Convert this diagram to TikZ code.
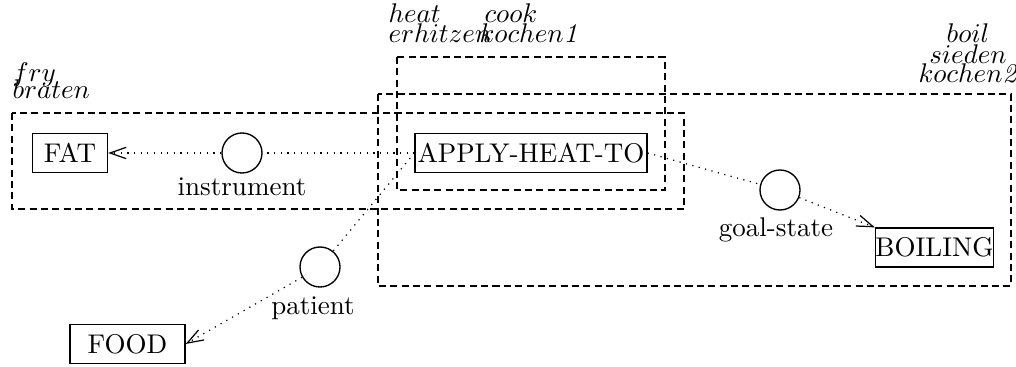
\documentclass[tikz,border=0pt]{standalone}
\usetikzlibrary{arrows.meta}
\begin{document}
\begin{tikzpicture}[x=0.37pt,y=-0.37pt,
  concept/.style={draw,line width=0.5pt,inner sep=0pt,minimum height=14.4pt,font=\fontsize{10}{12}\selectfont},
  role/.style={draw,line width=0.5pt,circle,inner sep=0pt,minimum size=14.8pt},
  rolelabel/.style={inner sep=0pt,font=\fontsize{10}{12}\selectfont},
  frame/.style={draw,line width=0.45pt,dash pattern=on 2.6pt off 1.6pt},
  lex/.style={inner sep=0pt,anchor=base west,font=\fontsize{10}{12}\selectfont},
  rel/.style={line width=0.45pt,dotted},
  relarrow/.style={rel,-{Straight Barb[length=6pt,width=4.2pt,line width=0.45pt]}}]
\useasboundingbox (0,0) rectangle (1016,367);
% frames
\draw[frame] (12,113) rectangle (684,209);
\draw[frame] (397,57) rectangle (665,190);
\draw[frame] (378,94) rectangle (1011,286);
% lexical labels
\node[lex] (fry) at (12,82) {$fry$};
\node[lex] (braten) at (12,99) {$braten$};
\node[lex] (heat) at (388,23) {$heat$};
\node[lex] (erhitzen) at (388,43) {$erhitzen$};
\node[lex] (cook) at (484,23) {$cook$};
\node[lex] (kochen1) at (479,43) {$kochen$\textit{1}};
\node[lex,anchor=base] (boil) at (968,43) {$boil$};
\node[lex,anchor=base] (sieden) at (968,64) {$sieden$};
\node[lex,anchor=base] (kochen2) at (968,83) {$kochen$\textit{2}};
% concepts
\node[concept,minimum width=27.75pt] (fat) at (70,153) {FAT};
\node[concept,minimum width=85.8pt] (apply) at (531,153) {APPLY-HEAT-TO};
\node[concept,minimum width=42.5pt] (boiling) at (934.5,247.5) {BOILING};
\node[concept,minimum width=42.5pt] (food) at (127.5,344) {FOOD};
% roles
\node[role] (instr) at (242,153) {};
\node[role] (goal) at (780,190) {};
\node[role] (patient) at (320,267) {};
\node[rolelabel] (instrlab) at (242,187) {instrument};
\node[rolelabel] (goallab) at (776,230) {goal-state};
\node[rolelabel] (patientlab) at (313,308) {patient};
% relations
\draw[rel] (apply.west) -- (instr);
\draw[relarrow] (instr) -- (fat.east);
\draw[rel] (apply.west) -- (patient);
\draw[relarrow] (patient) -- (food.east);
\draw[rel] (apply.east) -- (goal);
\draw[relarrow] (goal) -- (boiling.north west);
\end{tikzpicture}
\end{document}
